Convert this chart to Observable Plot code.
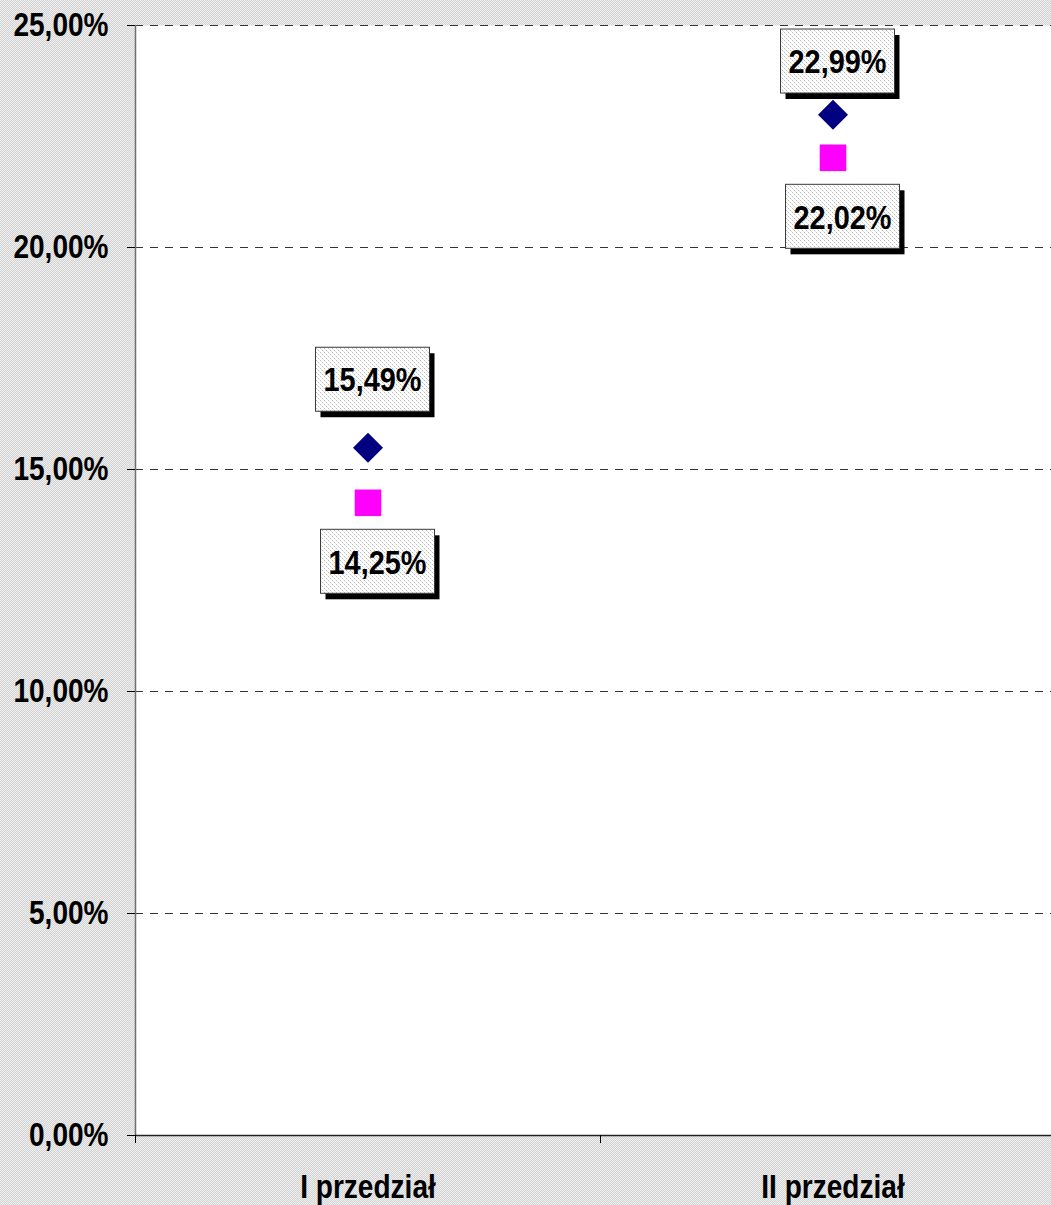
<!DOCTYPE html>
<html>
<head>
<meta charset="utf-8">
<script src="https://cdn.jsdelivr.net/npm/d3@7"></script>
<script src="https://cdn.jsdelivr.net/npm/@observablehq/plot@0.6"></script>
<style>
  html, body { margin: 0; padding: 0; overflow: hidden; width: 1051px; height: 1205px; }
  body {
    background-color: #e2e2e2;
    background-image: repeating-conic-gradient(#d2d2d2 0 25%, #efefef 0 50%);
    background-size: 2px 2px;
  }
  #chart svg { display: block; max-width: none !important; }
</style>
</head>
<body>
<div id="chart"></div>
<script>
const categories = ["I przedział", "II przedział"];
const seriesNavy = [15.49, 22.99];
const seriesPink = [14.25, 22.02];
const yTicks = [0, 5, 10, 15, 20, 25];
const gridTicks = [5, 10, 15, 20, 25];

const fmt = v => v.toFixed(2).replace(".", ",") + "%";
const FONT = "'Liberation Sans Narrow', 'Arial Narrow', 'Liberation Sans', Arial, sans-serif";
const SQUEEZE = 0.85;

const navyData = seriesNavy.map((v, i) => ({pos: i + 0.5, value: v}));
const pinkData = seriesPink.map((v, i) => ({pos: i + 0.5, value: v}));

function labelBoxes(data, {dx, dy, id}) {
  return Plot.text(data, {
    x: "pos", y: "value", text: d => fmt(d.value),
    render(index, scales, values, dims) {
      const g = d3.create("svg:g");
      const defs = g.append("defs");
      const pat = defs.append("pattern").attr("id", id).attr("width", 4).attr("height", 4)
        .attr("patternUnits", "userSpaceOnUse");
      pat.append("rect").attr("width", 4).attr("height", 4).attr("fill", "#ffffff");
      pat.append("rect").attr("x", 0).attr("y", 0).attr("width", 1).attr("height", 1).attr("fill", "#bdbdbd");
      pat.append("rect").attr("x", 2).attr("y", 2).attr("width", 1).attr("height", 1).attr("fill", "#bdbdbd");
      pat.append("rect").attr("x", 1).attr("y", 1).attr("width", 1).attr("height", 1).attr("fill", "#e4e4e4");
      pat.append("rect").attr("x", 3).attr("y", 3).attr("width", 1).attr("height", 1).attr("fill", "#e4e4e4");
      const w = 114, h = 64;
      for (const i of index) {
        const cx = values.x[i] + dx;
        let cy = values.y[i] + dy;
        let top = cy - h / 2;
        const minTop = dims.marginTop + 4;
        if (top < minTop) { top = minTop; cy = top + h / 2; }
        const left = cx - w / 2;
        g.append("rect").attr("x", left + 5).attr("y", top + 6).attr("width", w).attr("height", h).attr("fill", "#000");
        g.append("rect").attr("x", left).attr("y", top).attr("width", w).attr("height", h)
          .attr("fill", `url(#${id})`).attr("stroke", "#3a3a3a").attr("stroke-width", 1);
        g.append("text").attr("x", cx).attr("y", cy).attr("dy", "0.36em")
          .attr("text-anchor", "middle").attr("font-family", FONT).attr("font-weight", "bold")
          .attr("font-size", 34).attr("fill", "#000").text(values.text[i]);
      }
      return g.node();
    }
  });
}

const chart = Plot.plot({
  width: 1065,
  height: 1205,
  marginLeft: 135,
  marginRight: 0,
  marginTop: 25,
  marginBottom: 70,
  style: {
    fontFamily: FONT,
    fontWeight: "bold",
    fontSize: "33px",
    color: "#000",
    background: "transparent",
    overflow: "visible",
    maxWidth: "none"
  },
  x: {type: "linear", domain: [0, 2], axis: null, label: null},
  y: {domain: [0, 25], axis: null, label: null},
  marks: [
    Plot.frame({fill: "white", stroke: null}),
    Plot.gridY(gridTicks, {stroke: "#333", strokeOpacity: 1, strokeDasharray: "8,7", strokeWidth: 1}),
    Plot.ruleX([0], {stroke: "#6e6e6e", strokeWidth: 1.5}),
    Plot.ruleY([0], {stroke: "#222", strokeWidth: 1.5}),
    Plot.axisY({ticks: yTicks, tickFormat: fmt, tickSize: 8, tickPadding: 19, label: null,
      fontSize: 33, fontWeight: "bold", stroke: "#000"}),
    Plot.axisX({ticks: [0, 1, 2], tickSize: 8, tickFormat: () => "", label: null, stroke: "#000"}),
    Plot.axisX({ticks: categories.map((c, i) => i + 0.5), tickSize: 0, tickPadding: 39, label: null,
      tickFormat: d => categories[Math.floor(d)], fontSize: 33, fontWeight: "bold"}),
    Plot.dot(navyData, {x: "pos", y: "value", symbol: "diamond2", r: 13.5, fill: "#000080", stroke: "none"}),
    Plot.dot(pinkData, {x: "pos", y: "value", symbol: "square", r: 15, fill: "#ff00ff", stroke: "none"}),
    labelBoxes(navyData, {dx: 5, dy: -68, id: "patA"}),
    labelBoxes(pinkData, {dx: 10, dy: 59, id: "patB"})
  ]
});
document.getElementById("chart").appendChild(chart);

// Narrow-font emulation: compress every text horizontally
chart.querySelectorAll("text").forEach(t => {
  const len = t.getComputedTextLength();
  if (len > 0) {
    t.setAttribute("textLength", (len * SQUEEZE).toFixed(1));
    t.setAttribute("lengthAdjust", "spacingAndGlyphs");
  }
});
</script>
</body>
</html>
